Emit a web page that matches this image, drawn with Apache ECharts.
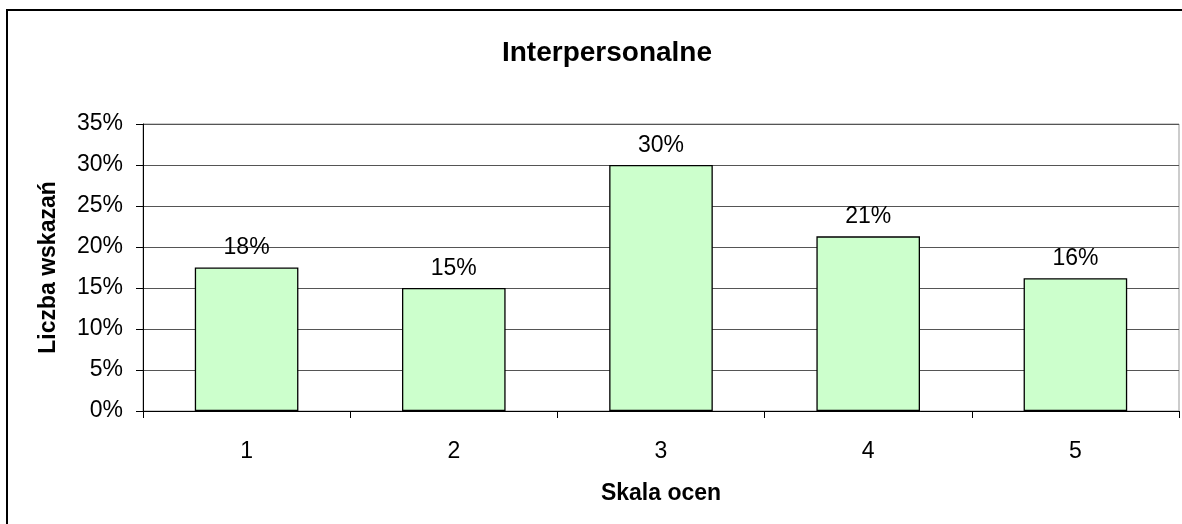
<!DOCTYPE html>
<html>
<head>
<meta charset="utf-8">
<script src="https://cdn.jsdelivr.net/npm/echarts@6/dist/echarts.min.js"></script>
<style>
  html, body { margin: 0; padding: 0; background: #fff; }
  #chart { width: 1182px; height: 524px; }
</style>
</head>
<body>
<div id="chart"></div>
<script>
// dane z wykresu
const categories = ['1', '2', '3', '4', '5'];
const values = [17.5, 15.0, 30.0, 21.3, 16.2];
const yTicks = { min: 0, max: 35, interval: 5 };

const chart = echarts.init(document.getElementById('chart'));
const font = 'Arial, "Liberation Sans", sans-serif';

const option = {
  backgroundColor: '#fff',
  animation: false,
  title: {
    text: 'Interpersonalne',
    left: 602,
    textAlign: 'center',
    top: 34,
    textStyle: { fontFamily: font, fontSize: 28, fontWeight: 'bold', color: '#000' }
  },
  graphic: [{
    type: 'rect',
    shape: { x: 7, y: 10, width: 1200, height: 600 },
    style: { fill: 'none', stroke: '#000', lineWidth: 2 },
    silent: true
  }],
  grid: {
    left: 143, right: 3, top: 124, bottom: 113,
    show: true, borderColor: '#999', borderWidth: 1
  },
  xAxis: {
    type: 'category',
    data: categories,
    boundaryGap: true,
    name: 'Skala ocen',
    nameLocation: 'middle',
    nameGap: 71,
    nameTextStyle: { fontFamily: font, fontSize: 23, fontWeight: 'bold', color: '#000' },
    axisLine: { lineStyle: { color: '#000', width: 1 } },
    axisTick: { show: true, alignWithLabel: false, length: 7, lineStyle: { color: '#000' } },
    axisLabel: { margin: 29, fontFamily: font, fontSize: 23, color: '#000' }
  },
  yAxis: {
    type: 'value',
    min: yTicks.min,
    max: yTicks.max,
    interval: yTicks.interval,
    name: 'Liczba wskazań',
    nameLocation: 'middle',
    nameGap: 83,
    nameRotate: 90,
    nameTextStyle: { fontFamily: font, fontSize: 23, fontWeight: 'bold', color: '#000' },
    axisLine: { show: true, lineStyle: { color: '#000', width: 1 } },
    axisTick: { show: true, length: 7, lineStyle: { color: '#000' } },
    axisLabel: { margin: 20, fontFamily: font, fontSize: 23, color: '#000', formatter: '{value}%' },
    splitLine: { show: true, lineStyle: { color: '#555', width: 1 } }
  },
  series: [{
    type: 'bar',
    data: values,
    barWidth: '50%',
    itemStyle: { color: '#CCFFCC', borderColor: '#000', borderWidth: 1.3 },
    label: {
      show: true,
      position: 'top',
      distance: 8,
      fontFamily: font,
      fontSize: 23,
      color: '#000',
      formatter: p => Math.round(p.value) + '%'
    }
  }]
};

option && chart.setOption(option);
</script>
</body>
</html>
